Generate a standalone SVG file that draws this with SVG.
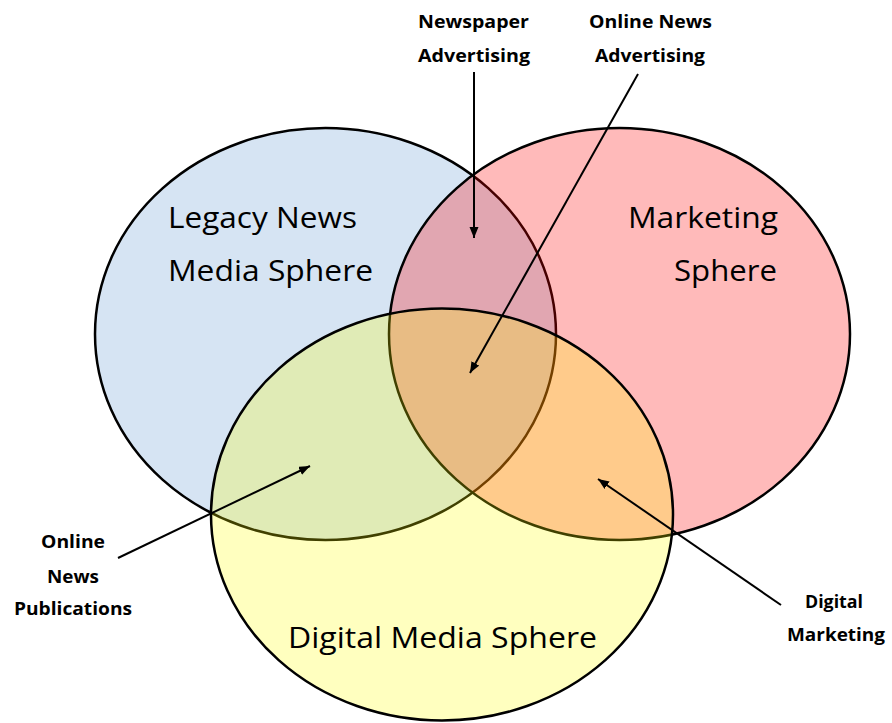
<svg xmlns="http://www.w3.org/2000/svg" width="892" height="723" viewBox="0 0 892 723">
<style>
.circ{stroke:#000;stroke-width:2.5}
.big{font-family:"Open Sans","Liberation Sans",sans-serif;font-size:29px;fill:#000}
.lbl{font-family:"Open Sans","Liberation Sans",sans-serif;font-size:18px;font-weight:bold;fill:#000}
.conn{stroke:#000;stroke-width:2;fill:none;marker-end:url(#arr)}
</style>
<defs>
<marker id="arr" markerUnits="userSpaceOnUse" markerWidth="12" markerHeight="10" refX="11" refY="4.5" orient="auto">
<path d="M0,0 L11,4.5 L0,9 z" fill="#000"/>
</marker>
</defs>
<rect width="892" height="723" fill="#fff"/>
<g id="legacy">
<ellipse class="circ" cx="325.5" cy="334" rx="230.5" ry="206" fill="#d6e4f3"/>
</g>
<g id="marketing">
<ellipse class="circ" cx="619.5" cy="334" rx="230.5" ry="206" fill="rgb(255,0,0)" fill-opacity="0.27"/>
</g>
<g id="digital">
<ellipse class="circ" cx="442" cy="514.5" rx="231" ry="206" fill="rgb(255,255,0)" fill-opacity="0.25"/>
</g>
<g id="legacy-label">
<text class="big" x="168" y="228" textLength="189" lengthAdjust="spacingAndGlyphs">Legacy News</text>
<text class="big" x="168" y="281" textLength="205" lengthAdjust="spacingAndGlyphs">Media Sphere</text>
</g>
<g id="marketing-label">
<text class="big" x="628" y="228" textLength="150" lengthAdjust="spacingAndGlyphs">Marketing</text>
<text class="big" x="674" y="281" textLength="103" lengthAdjust="spacingAndGlyphs">Sphere</text>
</g>
<g id="digital-label">
<text class="big" x="288" y="648" textLength="309" lengthAdjust="spacingAndGlyphs">Digital Media Sphere</text>
</g>
<g id="newspaper-advertising">
<text class="lbl" x="418" y="28" textLength="111" lengthAdjust="spacingAndGlyphs">Newspaper</text>
<text class="lbl" x="418" y="62" textLength="112" lengthAdjust="spacingAndGlyphs">Advertising</text>
</g>
<g id="online-news-advertising">
<text class="lbl" x="589" y="28" textLength="123" lengthAdjust="spacingAndGlyphs">Online News</text>
<text class="lbl" x="595" y="62" textLength="110" lengthAdjust="spacingAndGlyphs">Advertising</text>
</g>
<g id="online-news-publications">
<text class="lbl" x="41" y="548" textLength="64" lengthAdjust="spacingAndGlyphs">Online</text>
<text class="lbl" x="47" y="583" textLength="52" lengthAdjust="spacingAndGlyphs">News</text>
<text class="lbl" x="14" y="615" textLength="118" lengthAdjust="spacingAndGlyphs">Publications</text>
</g>
<g id="digital-marketing">
<text class="lbl" x="805" y="608" textLength="58" lengthAdjust="spacingAndGlyphs">Digital</text>
<text class="lbl" x="787" y="641" textLength="98" lengthAdjust="spacingAndGlyphs">Marketing</text>
</g>
<g id="connectors">
<line class="conn" x1="474" y1="72" x2="474" y2="238"/>
<line class="conn" x1="638" y1="74" x2="470" y2="373"/>
<line class="conn" x1="118" y1="558" x2="310" y2="466"/>
<line class="conn" x1="781" y1="605" x2="598" y2="479"/>
</g>
</svg>
